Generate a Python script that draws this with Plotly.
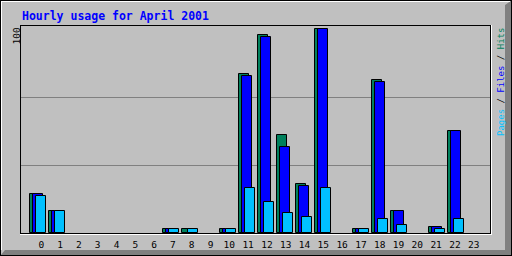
import plotly.graph_objects as go

hours = list(range(24))
hour_labels = [str(h) for h in hours]
hits  = [19, 11, 0, 0, 0, 0, 0, 2, 2, 0, 2, 78, 97, 48, 24, 100, 0, 2, 75, 11, 0, 3, 50, 0]
files = [19, 11, 0, 0, 0, 0, 0, 2, 0, 0, 2, 77, 96, 42, 23, 100, 0, 2, 74, 11, 0, 3, 50, 0]
pages = [18, 11, 0, 0, 0, 0, 0, 2, 2, 0, 2, 22, 15, 10, 8, 22, 0, 2, 7, 4, 0, 2, 7, 0]
y_max_label = "100"

W, H = 512, 256
L, R, T, B = 20, 21, 25, 23
PW, PH = W - L - R, H - T - B

def px(x):
    return (x - L) / PW

def py(y):
    return (H - B - y) / PH

def nz(v):
    return [None if a == 0 else a for a in v]

GREEN, BLUE, CYAN = "#00805C", "#0000FF", "#00C0FF"
BW = 0.51
fig = go.Figure()
for vals, col, off in [(hits, GREEN, 0.05), (files, BLUE, 0.05 + 3 / 19), (pages, CYAN, 0.05 + 6 / 19)]:
    fig.add_trace(go.Bar(x=hours, y=nz(vals), offset=off, width=BW,
                         marker=dict(color=col, line=dict(color="black", width=1)),
                         showlegend=False))

tick_pos = [0.632 + 0.9895 * h for h in hours]

fig.update_layout(
    width=W, height=H, margin=dict(l=L, r=R, t=T, b=B, autoexpand=False),
    paper_bgcolor="#C0C0C0", plot_bgcolor="#C0C0C0",
    barmode="overlay", bargap=0,
    xaxis=dict(range=[-0.489, 24.3], tickvals=tick_pos, ticktext=hour_labels,
               showgrid=False, zeroline=False, ticks="", showline=False,
               ticklabelstandoff=4, automargin=False,
               tickfont=dict(family="DejaVu Sans Mono", size=9.5, color="black")),
    yaxis=dict(range=[0, 102], tickvals=[100 / 3, 200 / 3], showticklabels=False, automargin=False,
               showgrid=True, gridcolor="#808080", gridwidth=1, zeroline=False, ticks=""),
)

shapes = []
# outer 3D frame
shapes.append(dict(type="path", xref="paper", yref="paper",
                   path=f"M {px(505)},{py(5)} L {px(512)},{py(0)} L {px(512)},{py(256)} L {px(0)},{py(256)} L {px(5)},{py(250)} L {px(505)},{py(250)} Z",
                   fillcolor="#808080", line=dict(width=0), layer="below"))
def line(x0, y0, x1, y1, col):
    shapes.append(dict(type="line", xref="paper", yref="paper", x0=px(x0), y0=py(y0), x1=px(x1), y1=py(y1),
                       line=dict(color=col, width=1), layer="above"))
line(1, 1.5, 510, 1.5, "white")
line(1.5, 1, 1.5, 250, "white")
line(0, 0.5, 512, 0.5, "black")
line(0.5, 0, 0.5, 256, "black")
line(511.5, 0, 511.5, 256, "black")
line(0, 255.5, 512, 255.5, "black")
# plot frame
line(20, 25.5, 491, 25.5, "black")
line(20.5, 25, 20.5, 234, "black")
line(20, 233.5, 491, 233.5, "black")
line(490.5, 25, 490.5, 234, "black")
line(20, 234.5, 492, 234.5, "white")
line(491.5, 25, 491.5, 235, "white")
fig.update_layout(shapes=shapes)

fig.add_annotation(xref="paper", yref="paper", x=px(20), y=py(15.5), xanchor="left", yanchor="middle",
                   text="<b>Hourly usage for April 2001</b>", showarrow=False,
                   font=dict(family="DejaVu Sans Mono", size=11.5, color="#0000FF"))
fig.add_annotation(xref="paper", yref="paper", x=px(15.5), y=py(36), xanchor="center", yanchor="middle",
                   text=y_max_label, textangle=-90, showarrow=False,
                   font=dict(family="DejaVu Sans Mono", size=9.5, color="black"))
fig.add_annotation(xref="paper", yref="paper", x=px(500.5), y=py(82.5), xanchor="center", yanchor="middle",
                   text=f'<span style="color:{CYAN}">Pages</span> / <span style="color:{BLUE}">Files</span> / <span style="color:{GREEN}">Hits</span>',
                   textangle=-90, showarrow=False,
                   font=dict(family="DejaVu Sans Mono", size=9, color="black"))

fig.write_html("out.html")
